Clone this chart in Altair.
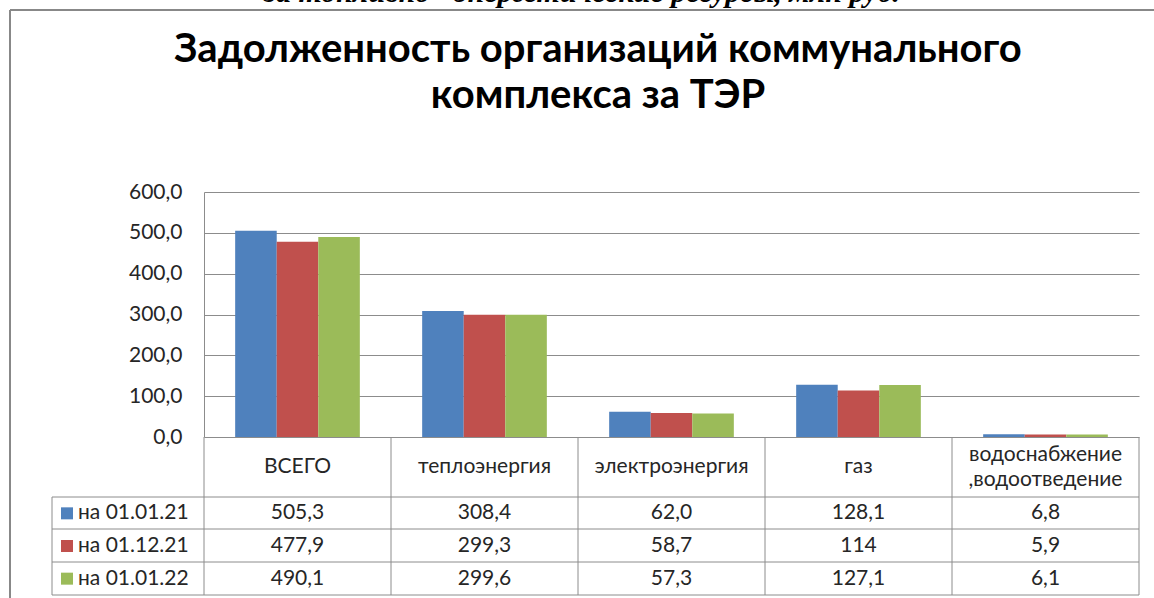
import altair as alt
import pandas as pd

categories = ["ВСЕГО", "теплоэнергия", "электроэнергия", "газ", "водоснабжение\n,водоотведение"]
series = ["на 01.01.21", "на 01.12.21", "на 01.01.22"]
v_2101 = [505.3, 308.4, 62.0, 128.1, 6.8]
v_2112 = [477.9, 299.3, 58.7, 114, 5.9]
v_2201 = [490.1, 299.6, 57.3, 127.1, 6.1]
colors = ["#4F81BD", "#C0504D", "#9BBB59"]
y_ticks = [0, 100, 200, 300, 400, 500, 600]
title_text = "Задолженность организаций коммунального\nкомплекса за ТЭР"
top_text = "за топливно - энергетические ресурсы, млн руб."


def fmt(v):
    return str(v) if isinstance(v, int) else f"{v:.1f}".replace(".", ",")


rows = []
for s, vals in zip(series, [v_2101, v_2112, v_2201]):
    for c, v in zip(categories, vals):
        rows.append({"cat": c, "series": s, "value": float(v), "label": fmt(v)})
df = pd.DataFrame(rows)
cat_df = pd.DataFrame({"cat": categories})
ser_df = pd.DataFrame({"series": series})

FONT = "Lato"
FS = 21
LH = 25
W, H = 935, 245
GRID = "#8c8c8c"
TXT = "#262626"

xcat = alt.X("cat:N", sort=categories, axis=None,
             scale=alt.Scale(domain=categories, paddingInner=0, paddingOuter=0))
color = alt.Color("series:N", sort=series, legend=None,
                  scale=alt.Scale(domain=series, range=colors))
yrow = alt.Y("series:N", axis=None,
             scale=alt.Scale(type="point", domain=series, range=[305, 403], padding=0.5))

bars = alt.Chart(df).mark_bar().encode(
    x=xcat,
    xOffset=alt.XOffset("series:N", sort=series,
                        scale=alt.Scale(domain=series, paddingInner=0, paddingOuter=0.75)),
    y=alt.Y("value:Q", scale=alt.Scale(domain=[0, 600], nice=False),
            axis=alt.Axis(values=y_ticks, grid=True, gridColor=GRID, domainColor=GRID,
                          ticks=False, labelFontSize=FS, labelFont=FONT, labelColor=TXT,
                          labelPadding=22, title=None,
                          labelExpr="replace(format(datum.value, '.1f'), '.', ',')")),
    color=color,
)

hl_df = pd.DataFrame({"py": [305, 337, 370, 403]})
hlines = alt.Chart(hl_df).mark_rule(color=GRID, strokeWidth=1).encode(
    y=alt.Y("py:Q", scale=None), x=alt.value(-152), x2=alt.value(W))

vlines = alt.Chart(cat_df).mark_rule(color=GRID, strokeWidth=1).encode(
    x=alt.X("cat:N", sort=categories, axis=None, bandPosition=0,
            scale=alt.Scale(domain=categories, paddingInner=0, paddingOuter=0)),
    y=alt.value(H), y2=alt.value(403))
one = pd.DataFrame({"a": [0]})
vright = alt.Chart(one).mark_rule(color=GRID, strokeWidth=1).encode(
    x=alt.value(W), y=alt.value(H), y2=alt.value(403))
vleft = alt.Chart(one).mark_rule(color=GRID, strokeWidth=1).encode(
    x=alt.value(-152), y=alt.value(305), y2=alt.value(403))

header = alt.Chart(cat_df).transform_calculate(
    hy=f"275 - {LH / 2} * (length(split(datum.cat, '\\n')) - 1)"
).mark_text(font=FONT, fontSize=FS, color=TXT, lineBreak="\n",
            lineHeight=LH, baseline="middle").encode(
    x=xcat, y=alt.Y("hy:Q", scale=None, axis=None), text="cat:N")

vals = alt.Chart(df).mark_text(font=FONT, fontSize=FS, color=TXT, baseline="middle").encode(
    x=xcat, y=yrow, text="label:N")

squares = alt.Chart(ser_df).mark_square(size=144, opacity=1, filled=True).encode(
    x=alt.value(-137), y=yrow, color=color)
leg_text = alt.Chart(ser_df).mark_text(font=FONT, fontSize=FS, color=TXT, align="left",
                                       baseline="middle").encode(
    x=alt.value(-126), y=yrow, text="series:N")

title = alt.Chart(pd.DataFrame({"t": [title_text]})).mark_text(
    font=FONT, fontSize=40, fontWeight="bold", color="#000000", lineBreak="\n",
    lineHeight=46, baseline="alphabetic", align="center").encode(
    x=alt.value(394), y=alt.value(-130), text="t:N")

top = alt.Chart(pd.DataFrame({"t": [top_text]})).mark_text(
    font="Liberation Serif", fontSize=30, fontWeight="bold", fontStyle="italic",
    color="#000000", baseline="alphabetic", align="center").encode(
    x=alt.value(378), y=alt.value(-190), text="t:N")

border_top = alt.Chart(one).mark_rule(color="#888888", strokeWidth=2).encode(
    x=alt.value(-194), x2=alt.value(W + 30), y=alt.value(-182))
border_left = alt.Chart(one).mark_rule(color="#888888", strokeWidth=2).encode(
    x=alt.value(-194), y=alt.value(-182), y2=alt.value(H + 170))

chart = alt.layer(
    bars, hlines, vlines, vright, vleft, header, vals, squares, leg_text,
    title, top, border_top, border_left
).resolve_scale(y="independent", x="shared").properties(
    width=W, height=H,
    autosize=alt.AutoSizeParams(type="none"),
    padding={"left": 204, "top": 192, "right": 15, "bottom": 161},
    background="white",
).configure_view(stroke=None)

chart.save("out.html", embed_options={"renderer": "svg", "actions": False})
